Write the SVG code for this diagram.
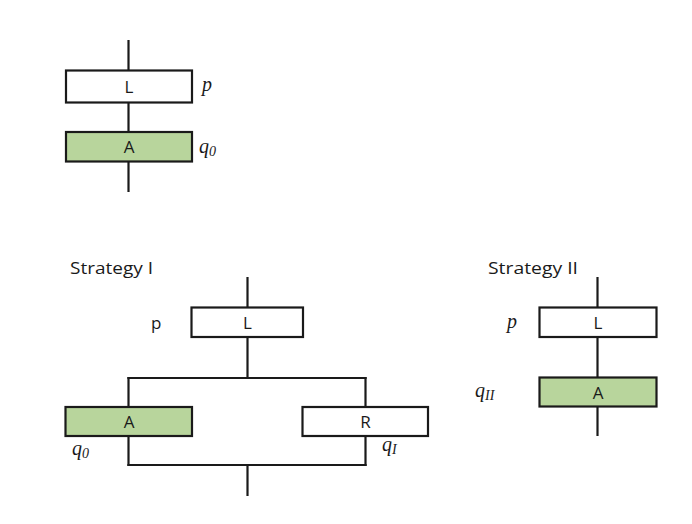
<svg xmlns="http://www.w3.org/2000/svg" width="692" height="524" viewBox="0 0 692 524">
<style>
.box{stroke:#1a1a1a;stroke-width:2.2;}
.w{fill:#ffffff;}
.g{fill:#b8d59c;}
.ln{stroke:#1a1a1a;stroke-width:2.2;fill:none;}
.t{font-family:"Open Sans","Liberation Sans",sans-serif;font-size:17px;fill:#1a1a1a;}
.m{font-family:"Liberation Serif",serif;font-style:italic;font-size:20px;fill:#1a1a1a;}
.s{font-size:14px;}
</style>
<rect width="692" height="524" fill="#ffffff"/>
<g id="connectors">
<line class="ln" x1="128.5" y1="40" x2="128.5" y2="192"/>
<line class="ln" x1="247.5" y1="277" x2="247.5" y2="378"/>
<line class="ln" x1="127.4" y1="378" x2="366.6" y2="378"/>
<line class="ln" x1="128.5" y1="377" x2="128.5" y2="466"/>
<line class="ln" x1="365.5" y1="377" x2="365.5" y2="466"/>
<line class="ln" x1="127.4" y1="465" x2="366.6" y2="465"/>
<line class="ln" x1="247.5" y1="465" x2="247.5" y2="496"/>
<line class="ln" x1="597.5" y1="277" x2="597.5" y2="436"/>
</g>
<g id="top-L">
<rect class="box w" x="66" y="70.5" width="126" height="32"/>
<text class="t" x="129" y="93" text-anchor="middle">L</text>
<text class="m" x="202" y="91">p</text>
</g>
<g id="top-A">
<rect class="box g" x="66" y="132" width="126" height="29.5"/>
<text class="t" x="129" y="153" text-anchor="middle">A</text>
<text class="m" x="199" y="153">q<tspan class="s" dy="3">0</tspan></text>
</g>
<g id="s1-title"><text class="t" x="70" y="274" textLength="83" lengthAdjust="spacingAndGlyphs">Strategy I</text></g>
<g id="s1-L">
<rect class="box w" x="191.5" y="307.5" width="111.5" height="29.5"/>
<text class="t" x="247.5" y="328.5" text-anchor="middle">L</text>
<text class="t" x="151" y="329">p</text>
</g>
<g id="s1-A">
<rect class="box g" x="65.5" y="407" width="126.5" height="29"/>
<text class="t" x="129" y="428" text-anchor="middle">A</text>
<text class="m" x="72" y="455">q<tspan class="s" dy="3">0</tspan></text>
</g>
<g id="s1-R">
<rect class="box w" x="302.5" y="407" width="125.5" height="29"/>
<text class="t" x="365.5" y="428" text-anchor="middle">R</text>
<text class="m" x="382" y="451">q<tspan class="s" dy="3">I</tspan></text>
</g>
<g id="s2-title"><text class="t" x="488" y="274" textLength="90" lengthAdjust="spacingAndGlyphs">Strategy II</text></g>
<g id="s2-L">
<rect class="box w" x="539.5" y="307.5" width="117" height="29.5"/>
<text class="t" x="598" y="328.5" text-anchor="middle">L</text>
<text class="m" x="507" y="328">p</text>
</g>
<g id="s2-A">
<rect class="box g" x="539.5" y="377.5" width="117" height="29"/>
<text class="t" x="598" y="398.5" text-anchor="middle">A</text>
<text class="m" x="475" y="397">q<tspan class="s" dy="3">II</tspan></text>
</g>
</svg>
